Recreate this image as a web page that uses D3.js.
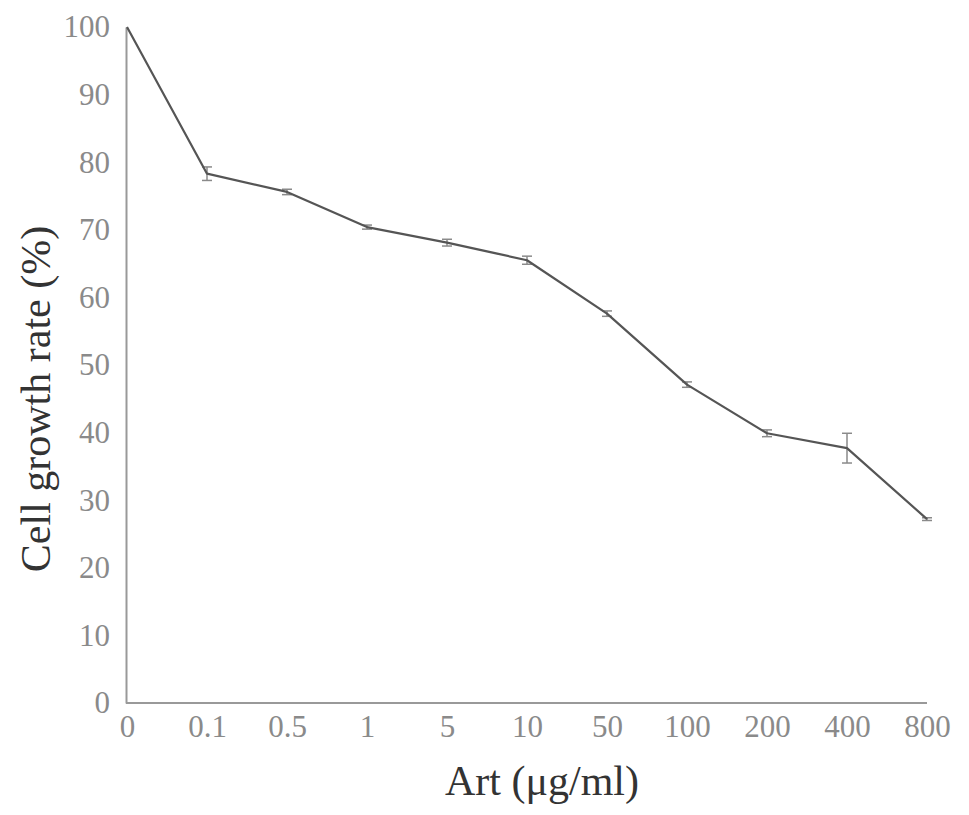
<!DOCTYPE html>
<html>
<head>
<meta charset="utf-8">
<script src="https://cdn.jsdelivr.net/npm/d3@7"></script>
<style>
  body { margin: 0; background: #fff; }
  text { font-family: 'Liberation Serif', 'Times New Roman', serif; }
</style>
</head>
<body>
<svg width="969" height="815"></svg>
<script>
const doses = ['0', '0.1', '0.5', '1', '5', '10', '50', '100', '200', '400', '800'];
const growth = [100, 78.3, 75.6, 70.4, 68.1, 65.5, 57.6, 47.1, 39.9, 37.7, 27.2];
const errs = [0, 1.0, 0.4, 0.3, 0.5, 0.6, 0.4, 0.4, 0.5, 2.2, 0.2];
const yTicks = [0, 10, 20, 30, 40, 50, 60, 70, 80, 90, 100];

const svg = d3.select('svg');
const m = { top: 27, right: 42, bottom: 112, left: 126 };
const width = +svg.attr('width') - m.left - m.right;
const height = +svg.attr('height') - m.top - m.bottom;
const g = svg.append('g').attr('transform', `translate(${m.left}, ${m.top})`);

const x = d3.scalePoint().domain(doses).range([1, width]);
const y = d3.scaleLinear().domain([0, 100]).range([height, 0]);

// y axis
const ya = g.append('g')
  .call(d3.axisLeft(y).tickValues(yTicks).tickSize(0).tickPadding(16));
ya.select('.domain').attr('stroke', '#999').attr('stroke-width', 2);
ya.selectAll('text').attr('fill', '#8a8a8a').attr('font-size', 31).attr('font-family', "'Liberation Serif', serif");

// x axis
const xa = g.append('g')
  .attr('transform', `translate(0, ${height})`)
  .call(d3.axisBottom(x).tickSize(0).tickPadding(12));
xa.select('.domain').attr('stroke', '#999').attr('stroke-width', 2).attr('d', `M0,0H${width}`);
xa.selectAll('text').attr('fill', '#8a8a8a').attr('font-size', 31).attr('font-family', "'Liberation Serif', serif");

// error bars
const eb = g.append('g').attr('stroke', '#8a8a8a').attr('stroke-width', 1.5);
doses.forEach((d, i) => {
  if (!errs[i]) return;
  const cx = x(d), y0 = y(growth[i] - errs[i]), y1 = y(growth[i] + errs[i]);
  eb.append('line').attr('x1', cx).attr('x2', cx).attr('y1', y0).attr('y2', y1);
  eb.append('line').attr('x1', cx - 5).attr('x2', cx + 5).attr('y1', y0).attr('y2', y0);
  eb.append('line').attr('x1', cx - 5).attr('x2', cx + 5).attr('y1', y1).attr('y2', y1);
});

const line = d3.line()
  .x((d, i) => x(doses[i]))
  .y(d => y(d));

g.append('path')
  .datum(growth)
  .attr('fill', 'none')
  .attr('stroke', '#555')
  .attr('stroke-width', 2.2)
  .attr('stroke-linejoin', 'round')
  .attr('d', line);

// axis titles
svg.append('text')
  .attr('transform', 'translate(542, 795)')
  .attr('text-anchor', 'middle')
  .attr('fill', '#333')
  .attr('font-size', 42)
  .text('Art (μg/ml)');

svg.append('text')
  .attr('transform', 'translate(50, 399) rotate(-90)')
  .attr('text-anchor', 'middle')
  .attr('fill', '#333')
  .attr('font-size', 42)
  .text('Cell growth rate (%)');
</script>
</body>
</html>
